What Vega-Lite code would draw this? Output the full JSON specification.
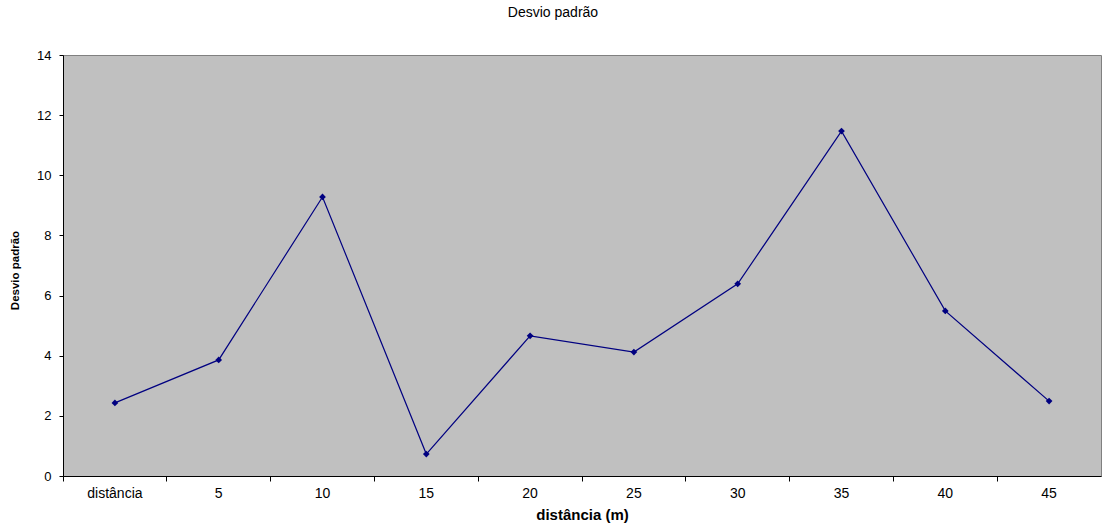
{
  "$schema": "https://vega.github.io/schema/vega-lite/v6.json",
  "width": 1038,
  "height": 421,
  "autosize": {"type": "none"},
  "padding": {"left": 63, "top": 55, "right": 2, "bottom": 49},
  "background": "white",
  "title": {
    "text": "Desvio padrão",
    "font": "Liberation Sans",
    "fontSize": 14,
    "fontWeight": "normal",
    "color": "black",
    "anchor": "middle",
    "frame": "group",
    "dx": -29,
    "offset": 29
  },
  "config": {
    "view": {"fill": "#C0C0C0", "stroke": "#808080", "strokeWidth": 1},
    "axis": {
      "labelFont": "Liberation Sans",
      "titleFont": "Liberation Sans",
      "labelColor": "black",
      "titleColor": "black",
      "domainColor": "black",
      "tickColor": "black",
      "grid": false
    }
  },
  "data": {
    "values": [
      {"cat": "distância", "v": 2.43},
      {"cat": "5", "v": 3.86},
      {"cat": "10", "v": 9.28},
      {"cat": "15", "v": 0.73},
      {"cat": "20", "v": 4.66},
      {"cat": "25", "v": 4.12},
      {"cat": "30", "v": 6.39},
      {"cat": "35", "v": 11.47},
      {"cat": "40", "v": 5.49},
      {"cat": "45", "v": 2.49}
    ]
  },
  "encoding": {
    "x": {
      "field": "cat",
      "type": "nominal",
      "sort": null,
      "scale": {"type": "band", "paddingInner": 0, "paddingOuter": 0},
      "axis": {
        "title": "distância (m)",
        "titleFontSize": 15,
        "titleFontWeight": "bold",
        "titleY": 38,
        "titleBaseline": "middle",
        "labelAngle": 0,
        "labelFontSize": 14,
        "labelPadding": 5,
        "tickSize": 5,
        "bandPosition": 0,
        "domainWidth": 1,
        "tickWidth": 1
      }
    },
    "y": {
      "field": "v",
      "type": "quantitative",
      "scale": {"domain": [0, 14], "nice": false, "zero": true},
      "axis": {
        "title": "Desvio padrão",
        "titleFontSize": 11.5,
        "titleFontWeight": "bold",
        "titleX": -48,
        "titleY": 215,
        "titleAngle": -90,
        "titleBaseline": "middle",
        "titleAlign": "center",
        "values": [0, 2, 4, 6, 8, 10, 12, 14],
        "labelFontSize": 13,
        "labelPadding": 8,
        "tickSize": 4
      }
    }
  },
  "layer": [
    {"mark": {"type": "line", "color": "#000080", "strokeWidth": 1.2}},
    {"mark": {"type": "point", "shape": "diamond", "filled": true, "color": "#000080", "size": 45, "opacity": 1}}
  ]
}
